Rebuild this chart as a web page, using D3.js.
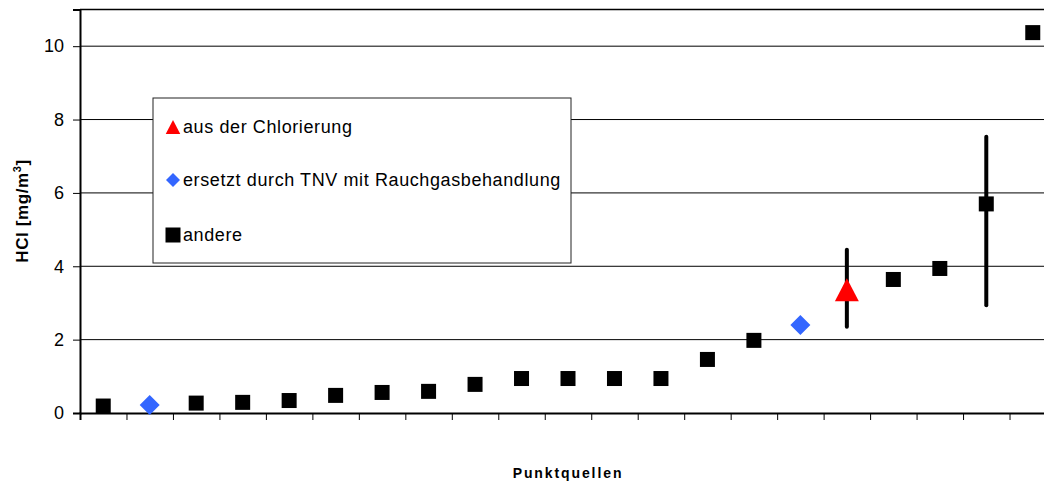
<!DOCTYPE html>
<html>
<head>
<meta charset="utf-8">
<script src="https://cdn.jsdelivr.net/npm/d3@7"></script>
<style>
  body { margin: 0; background: #fff; }
  svg { display: block; font-family: Arial, "Liberation Sans", sans-serif; }
</style>
</head>
<body>
<svg id="chart" width="1044" height="487"></svg>
<script>
// point sources, sorted by HCl value
let groups = ["andere","ersetzt","andere","andere","andere","andere","andere","andere","andere","andere",
              "andere","andere","andere","andere","andere","ersetzt","chlor","andere","andere","andere","andere"];
let values = [0.19,0.22,0.27,0.29,0.34,0.48,0.56,0.59,0.78,0.94,
              0.94,0.94,0.94,1.46,1.98,2.40,3.36,3.64,3.94,5.70,10.37];
let errIndex = [16, 19];
let errLow = [2.35, 2.94];
let errHigh = [4.45, 7.53];
let yTicks = [0, 2, 4, 6, 8, 10];
let legendLabels = ["aus der Chlorierung", "ersetzt durch TNV mit Rauchgasbehandlung", "andere"];
let legendKeys = ["chlor", "ersetzt", "andere"];

let svg = d3.select("svg#chart");
let plotLeft = 80, plotRight = 1056, plotTop = 9.5, plotBottom = 413;

let idx = d3.range(values.length);
let x = d3.scaleBand().domain(idx).range([plotLeft, plotRight]);
let xEdge = d3.scaleLinear().domain([0, values.length]).range([plotLeft, plotRight]);
let y = d3.scaleLinear().domain([0, 11]).range([plotBottom, plotTop]);

// gridlines
svg.append("g").selectAll("line")
  .data(yTicks.filter(d => d > 0))
  .join("line")
  .attr("x1", plotLeft).attr("x2", plotRight)
  .attr("y1", d => y(d)).attr("y2", d => y(d))
  .attr("stroke", "#000").attr("stroke-width", 1);

// top border
svg.append("line")
  .attr("x1", plotLeft).attr("x2", plotRight)
  .attr("y1", y(11)).attr("y2", y(11))
  .attr("stroke", "#000").attr("stroke-width", 1.5);

// y axis
let yAxis = svg.append("g")
  .attr("transform", "translate(" + plotLeft + ",0)")
  .call(d3.axisLeft(y).tickValues(yTicks).tickSize(7).tickPadding(9).tickFormat(d3.format("d")));
yAxis.select(".domain").attr("stroke-width", 2);
yAxis.selectAll("text").attr("font-size", 18).attr("fill", "#000").attr("font-family", "Arial, 'Liberation Sans', sans-serif");

// x axis (ticks at category boundaries)
let xAxis = svg.append("g")
  .attr("transform", "translate(0," + plotBottom + ")")
  .call(d3.axisBottom(xEdge).tickValues(d3.range(values.length + 1)).tickSize(7).tickFormat(""));
xAxis.select(".domain").attr("stroke-width", 2);

// error bars
svg.append("g").selectAll("line")
  .data(errIndex)
  .join("line")
  .attr("x1", d => x(d) + x.bandwidth() / 2)
  .attr("x2", d => x(d) + x.bandwidth() / 2)
  .attr("y1", (d, i) => y(errLow[i]))
  .attr("y2", (d, i) => y(errHigh[i]))
  .attr("stroke", "#000").attr("stroke-width", 4).attr("stroke-linecap", "round");

// markers
function marker(sel, key, s) {
  if (key === "andere") {
    sel.append("rect").attr("x", -s / 2).attr("y", -s / 2).attr("width", s).attr("height", s).attr("fill", "#000");
  } else if (key === "ersetzt") {
    sel.append("path").attr("d", "M0," + (-s / 2) + "L" + (s / 2) + ",0L0," + (s / 2) + "L" + (-s / 2) + ",0Z").attr("fill", "#3366FF");
  } else {
    sel.append("path").attr("d", "M0," + (-s / 2) + "L" + (s * 0.52) + "," + (s / 2) + "L" + (-s * 0.52) + "," + (s / 2) + "Z").attr("fill", "#FF0000");
  }
}

svg.append("g").selectAll("g")
  .data(idx)
  .join("g")
  .attr("transform", d => "translate(" + (x(d) + x.bandwidth() / 2) + "," + y(values[d]) + ")")
  .each(function(d) {
    let g = d3.select(this);
    let key = groups[d];
    marker(g, key, key === "andere" ? 15 : key === "ersetzt" ? 20 : 23);
  });

// legend
let legend = svg.append("g");
legend.append("rect")
  .attr("x", 153).attr("y", 98).attr("width", 418).attr("height", 165)
  .attr("fill", "#fff").attr("stroke", "#222").attr("stroke-width", 1);
let legY = [127, 180, 235];
legendKeys.forEach((k, i) => {
  let g = legend.append("g").attr("transform", "translate(173," + legY[i] + ")");
  marker(g, k, k === "andere" ? 15 : 14);
  legend.append("text")
    .attr("x", 183).attr("y", legY[i] + 6)
    .attr("font-size", 18).attr("letter-spacing", 0.6)
    .text(legendLabels[i]);
});

// axis titles
let yt = svg.append("text")
  .attr("transform", "translate(28,211) rotate(-90)")
  .attr("text-anchor", "middle")
  .attr("font-size", 17).attr("font-weight", "bold").attr("letter-spacing", 0.6);
yt.append("tspan").text("HCl [mg/m");
yt.append("tspan").attr("font-size", 11).attr("dy", -7).text("3");
yt.append("tspan").attr("dy", 7).text("]");

svg.append("text")
  .attr("x", 568).attr("y", 478)
  .attr("text-anchor", "middle")
  .attr("font-size", 14).attr("font-weight", "bold").attr("letter-spacing", 1.9)
  .text("Punktquellen");
</script>
</body>
</html>
